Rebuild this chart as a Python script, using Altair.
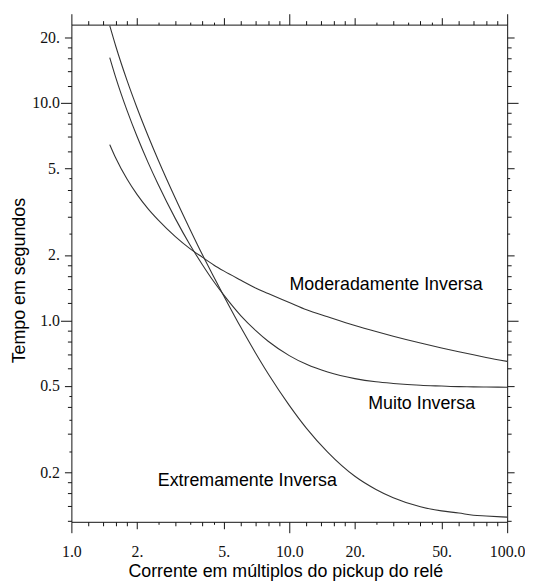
import altair as alt
import pandas as pd

# ---- data ----
current = [1.5, 1.6, 1.8, 2, 2.25, 2.5, 3, 3.5, 4, 4.5, 5, 6, 7, 8, 10, 12, 15, 20, 25, 30, 40, 50, 60, 70, 80, 100]
moderately = [6.44, 5.57, 4.47, 3.80, 3.26, 2.90, 2.43, 2.14, 1.95, 1.80, 1.69, 1.53, 1.41, 1.33, 1.21, 1.12, 1.04,
              0.948, 0.889, 0.846, 0.787, 0.747, 0.718, 0.695, 0.676, 0.648]
very = [16.18, 13.06, 9.25, 7.03, 5.32, 4.23, 2.94, 2.23, 1.80, 1.51, 1.31, 1.05, 0.900, 0.802, 0.689, 0.628, 0.579,
        0.540, 0.522, 0.513, 0.503, 0.499, 0.496, 0.495, 0.494, 0.493]
extremely = [22.68, 18.20, 12.71, 9.52, 7.06, 5.49, 3.65, 2.63, 2.00, 1.59, 1.30, 0.927, 0.709, 0.569, 0.407, 0.319,
             0.248, 0.192, 0.167, 0.153, 0.139, 0.133, 0.130, 0.127, 0.126, 0.1245]
series_names = ["Moderadamente Inversa", "Muito Inversa", "Extremamente Inversa"]

label_text = ["Moderadamente Inversa", "Muito Inversa", "Extremamente Inversa"]
label_x = [27.8, 40.5, 6.42]
label_y = [1.462, 0.4126, 0.183]

x_major = [1, 2, 5, 10, 20, 50, 100]
x_major_labels = ["1.0", "2.", "5.", "10.0", "20.", "50.", "100.0"]
x_decades = [1, 10, 100]
x_mid = [2, 5, 20, 50]
x_minor = [1.2, 1.4, 1.6, 1.8, 3, 4, 6, 7, 8, 9, 12, 14, 16, 18, 30, 40, 60, 70, 80, 90]
x_half = [2.5, 3.5, 4.5, 25, 35, 45]

y_major = [0.2, 0.5, 1, 2, 5, 10, 20]
y_major_labels = ["0.2", "0.5", "1.0", "2.", "5.", "10.0", "20."]
y_decades = [1, 10]
y_mid = [0.2, 0.5, 2, 5, 20]
y_minor = [0.12, 0.14, 0.16, 0.18, 0.3, 0.4, 0.6, 0.7, 0.8, 0.9, 1.2, 1.4, 1.6, 1.8, 3, 4, 6, 7, 8, 9,
           12, 14, 16, 18]
y_half = [0.25, 0.35, 0.45, 2.5, 3.5, 4.5]

x_domain = [1, 100]
y_domain = [0.1185, 22.95]

# ---- tables ----
rows = []
for name, vals in zip(series_names, [moderately, very, extremely]):
    for c, t in zip(current, vals):
        rows.append({"curva": name, "I": c, "t": t})
df = pd.DataFrame(rows)
labels_df = pd.DataFrame({"txt": label_text, "I": label_x, "t": label_y})

xs = alt.Scale(type="log", domain=x_domain, nice=False)
ys = alt.Scale(type="log", domain=y_domain, nice=False)

INK = "#111"


def tick_axis(orient, values, size, domain=False):
    return alt.Axis(
        orient=orient, values=values, labels=False, title=None,
        grid=False, domain=domain, domainColor=INK, domainWidth=1,
        ticks=True, tickColor=INK, tickWidth=1, tickSize=size,
    )


def label_expr(values, texts):
    expr = "''"
    for v, t in reversed(list(zip(values, texts))):
        expr = f"abs(datum.value - {v}) < {v * 1e-6} ? '{t}' : {expr}"
    return expr


x_label_axis = alt.Axis(
    orient="bottom", values=x_major, labelExpr=label_expr(x_major, x_major_labels),
    ticks=False, tickSize=0, domain=False, grid=False,
    labelFont="Liberation Serif", labelFontSize=16, labelColor=INK,
    labelBaseline="alphabetic", labelPadding=35, labelFlush=False, labelOverlap=False,
    title="Corrente em múltiplos do pickup do relé", titleFont="Liberation Sans",
    titleFontSize=18, titleFontWeight="normal", titleColor="#000",
    titleBaseline="alphabetic", titleX=216, titleY=55,
)
y_label_axis = alt.Axis(
    orient="left", values=y_major, labelExpr=label_expr(y_major, y_major_labels),
    ticks=False, tickSize=0, domain=False, grid=False,
    labelFont="Liberation Serif", labelFontSize=16, labelColor=INK,
    labelBaseline="middle", labelAlign="right", labelPadding=12,
    labelFlush=False, labelOverlap=False,
    title="Tempo em segundos", titleFont="Liberation Sans",
    titleFontSize=18, titleFontWeight="normal", titleColor="#000",
    titleBaseline="alphabetic", titleX=-47, titleY=258,
)

lines = alt.Chart(df).mark_line(color="#333", strokeWidth=1.1, interpolate="monotone", clip=True).encode(
    x=alt.X("I:Q", scale=xs, axis=tick_axis("bottom", x_decades, 11, domain=True)),
    y=alt.Y("t:Q", scale=ys, axis=tick_axis("left", y_decades, 11, domain=True)),
    detail="curva:N",
)

texts = alt.Chart(labels_df).mark_text(
    font="Liberation Sans", fontSize=18, color="#000", align="center", baseline="middle"
).encode(
    x=alt.X("I:Q", scale=xs, axis=x_label_axis),
    y=alt.Y("t:Q", scale=ys, axis=y_label_axis),
    text="txt:N",
)


def ghost(x_axis, y_axis):
    return alt.Chart(labels_df).mark_point(opacity=0).encode(
        x=alt.X("I:Q", scale=xs, axis=x_axis),
        y=alt.Y("t:Q", scale=ys, axis=y_axis),
    )


tick_classes = [
    (x_mid, y_mid, 7),
    (x_minor, y_minor, 4),
    (x_half, y_half, 2.5),
]

layers = [lines, texts]
for xv, yv, size in tick_classes:
    layers.append(ghost(tick_axis("bottom", xv, size), tick_axis("left", yv, size)))
layers.append(ghost(tick_axis("top", x_decades, 11, domain=True), tick_axis("right", y_decades, 11, domain=True)))
for xv, yv, size in tick_classes:
    layers.append(ghost(tick_axis("top", xv, size), tick_axis("right", yv, size)))

chart = (
    alt.layer(*layers)
    .resolve_axis(x="independent", y="independent")
    .properties(
        width=440, height=502,
        autosize=alt.AutoSizeParams(type="none"),
        padding={"left": 64, "top": 14, "right": 18, "bottom": 59},
        background="white",
    )
    .configure_view(stroke=None)
)

chart.save("out.html", embed_options={"renderer": "svg", "actions": False})
